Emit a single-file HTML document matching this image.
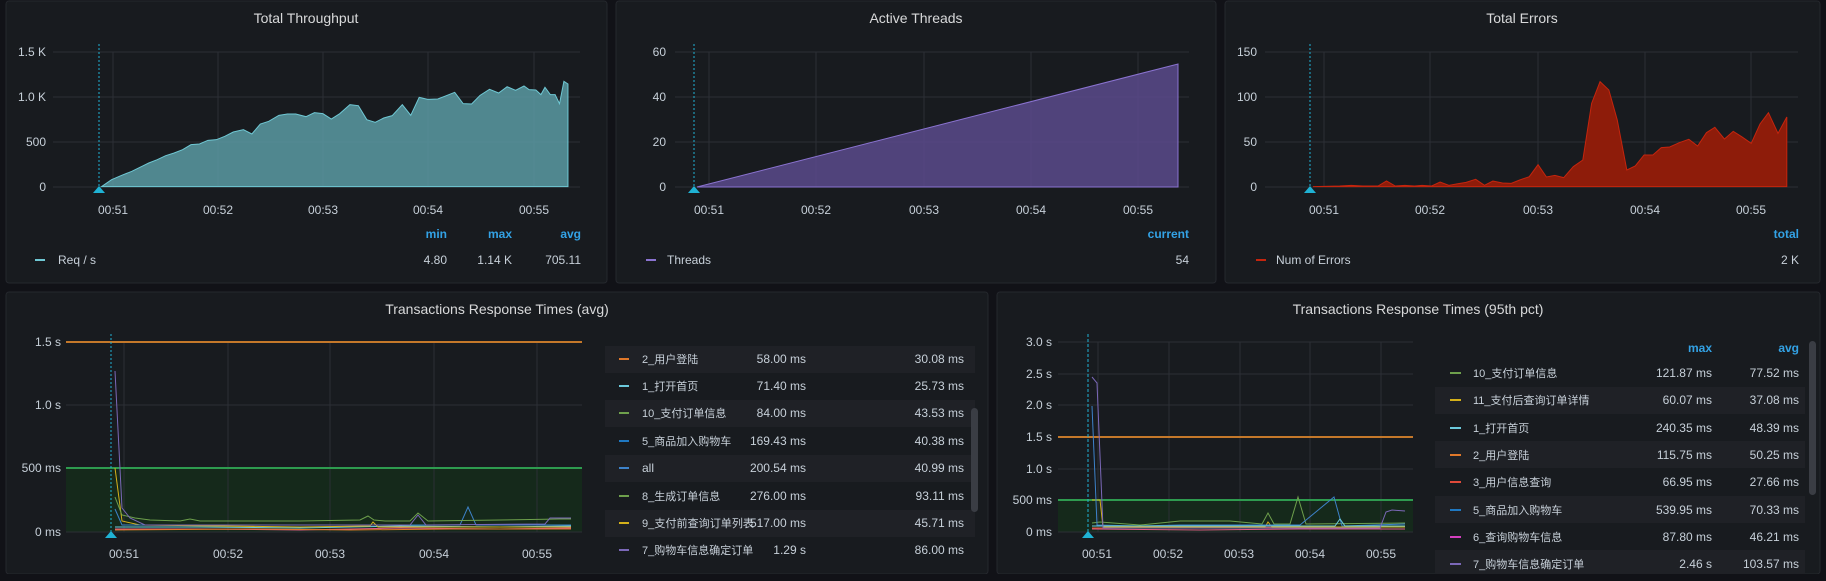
<!DOCTYPE html>
<html><head><meta charset="utf-8"><style>
html,body{margin:0;padding:0;background:#111217;}
svg{display:block;}
text{font-family:"Liberation Sans","Noto Sans CJK SC",sans-serif;}
.t{fill:#d8d9da;font-size:14px;font-weight:500;}
.ax{fill:#c7d0d9;font-size:12px;}
.lg{fill:#c7d0d9;font-size:12px;}
.cj{font-size:11px;}
.hd{fill:#33a2e5;font-size:12px;font-weight:bold;}
.g{stroke:#2c2f35;stroke-width:1;}
</style></head><body>
<svg width="1826" height="581" viewBox="0 0 1826 581" xmlns="http://www.w3.org/2000/svg">
<rect width="1826" height="581" fill="#111217"/>
<rect x="6" y="1" width="601" height="282" rx="3" fill="#181b1f" stroke="#25282d"/>
<rect x="616" y="1" width="600" height="282" rx="3" fill="#181b1f" stroke="#25282d"/>
<rect x="1225" y="1" width="595" height="282" rx="3" fill="#181b1f" stroke="#25282d"/>
<rect x="6" y="292" width="982" height="282" rx="3" fill="#181b1f" stroke="#25282d"/>
<rect x="997" y="292" width="823" height="282" rx="3" fill="#181b1f" stroke="#25282d"/>

<text class="t" x="306" y="23" text-anchor="middle">Total Throughput</text>
<g class="g">
<line x1="53" y1="52" x2="580" y2="52"/><line x1="53" y1="97" x2="580" y2="97"/><line x1="53" y1="142" x2="580" y2="142"/><line x1="53" y1="187" x2="580" y2="187"/>
<line x1="113" y1="52" x2="113" y2="187"/><line x1="218" y1="52" x2="218" y2="187"/><line x1="323" y1="52" x2="323" y2="187"/><line x1="428" y1="52" x2="428" y2="187"/><line x1="534" y1="52" x2="534" y2="187"/>
</g>
<g class="ax" text-anchor="end"><text x="46" y="56">1.5 K</text><text x="46" y="101">1.0 K</text><text x="46" y="146">500</text><text x="46" y="191">0</text></g>
<g class="ax" text-anchor="middle"><text x="113" y="214">00:51</text><text x="218" y="214">00:52</text><text x="323" y="214">00:53</text><text x="428" y="214">00:54</text><text x="534" y="214">00:55</text></g>
<g transform="translate(0,-2) scale(0.33807,0.33333)">
<polygon fill="#5a9aa3" fill-opacity="0.85" stroke="#6fc8d4" stroke-width="1" vector-effect="non-scaling-stroke" points="300,566 330,545 360,532 390,520 420,505 440,495 465,485 490,473 515,465 540,455 565,440 590,438 615,427 640,425 665,415 690,402 720,395 745,408 770,378 795,370 825,352 850,348 875,348 905,356 930,344 955,347 980,363 1005,347 1035,320 1060,323 1085,365 1110,373 1135,360 1160,353 1190,320 1215,352 1240,298 1265,304 1295,303 1320,293 1345,283 1370,317 1395,318 1420,292 1448,274 1475,285 1500,266 1525,277 1550,264 1565,275 1585,276 1600,290 1612,268 1628,290 1642,290 1655,317 1668,250 1680,258 1680,566"/>
</g>
<line x1="99" y1="44" x2="99" y2="187" stroke="#1fb2d4" stroke-dasharray="2,2"/>
<polygon points="93,193 99,186 105,193" fill="#1fb2d4"/>
<g text-anchor="end"><text class="hd" x="447" y="238">min</text><text class="hd" x="512" y="238">max</text><text class="hd" x="581" y="238">avg</text></g>
<line x1="35" y1="260" x2="45" y2="260" stroke="#6fc8d4" stroke-width="2"/>
<text class="lg" x="58" y="264">Req / s</text>
<g class="lg" text-anchor="end"><text x="447" y="264">4.80</text><text x="512" y="264">1.14 K</text><text x="581" y="264">705.11</text></g>

<text class="t" x="916" y="23" text-anchor="middle">Active Threads</text>
<g class="g">
<line x1="675" y1="52" x2="1189" y2="52"/><line x1="675" y1="97" x2="1189" y2="97"/><line x1="675" y1="142" x2="1189" y2="142"/><line x1="675" y1="187" x2="1189" y2="187"/>
<line x1="709" y1="52" x2="709" y2="187"/><line x1="816" y1="52" x2="816" y2="187"/><line x1="924" y1="52" x2="924" y2="187"/><line x1="1031" y1="52" x2="1031" y2="187"/><line x1="1138" y1="52" x2="1138" y2="187"/>
</g>
<g class="ax" text-anchor="end"><text x="666" y="56">60</text><text x="666" y="101">40</text><text x="666" y="146">20</text><text x="666" y="191">0</text></g>
<g class="ax" text-anchor="middle"><text x="709" y="214">00:51</text><text x="816" y="214">00:52</text><text x="924" y="214">00:53</text><text x="1031" y="214">00:54</text><text x="1138" y="214">00:55</text></g>
<polygon points="697,187 1178,64 1178,187" fill="#5b4a8c" fill-opacity="0.85" stroke="#8a73d0" stroke-width="1"/>
<line x1="694" y1="44" x2="694" y2="187" stroke="#1fb2d4" stroke-dasharray="2,2"/>
<polygon points="688,193 694,186 700,193" fill="#1fb2d4"/>
<text class="hd" x="1189" y="238" text-anchor="end">current</text>
<line x1="646" y1="260" x2="656" y2="260" stroke="#8a73d0" stroke-width="2"/>
<text class="lg" x="667" y="264">Threads</text>
<text class="lg" x="1189" y="264" text-anchor="end">54</text>

<text class="t" x="1522" y="23" text-anchor="middle">Total Errors</text>
<g class="g">
<line x1="1265" y1="52" x2="1798" y2="52"/><line x1="1265" y1="97" x2="1798" y2="97"/><line x1="1265" y1="142" x2="1798" y2="142"/><line x1="1265" y1="187" x2="1798" y2="187"/>
<line x1="1324" y1="52" x2="1324" y2="187"/><line x1="1430" y1="52" x2="1430" y2="187"/><line x1="1538" y1="52" x2="1538" y2="187"/><line x1="1645" y1="52" x2="1645" y2="187"/><line x1="1751" y1="52" x2="1751" y2="187"/>
</g>
<g class="ax" text-anchor="end"><text x="1257" y="56">150</text><text x="1257" y="101">100</text><text x="1257" y="146">50</text><text x="1257" y="191">0</text></g>
<g class="ax" text-anchor="middle"><text x="1324" y="214">00:51</text><text x="1430" y="214">00:52</text><text x="1538" y="214">00:53</text><text x="1645" y="214">00:54</text><text x="1751" y="214">00:55</text></g>
<g transform="translate(1225,40) scale(0.3827,0.33333)">
<polygon fill="#8e1c0a" stroke="#c4250e" stroke-width="1" vector-effect="non-scaling-stroke" points="230,440 300,438 330,436 360,438 400,438 422,423 445,438 470,436 495,438 515,436 540,438 562,426 585,436 610,431 630,427 655,418 678,436 700,423 725,429 748,430 770,420 795,410 818,374 840,411 862,406 885,413 910,380 935,360 958,190 980,125 1003,150 1025,240 1050,390 1072,378 1095,345 1118,345 1140,323 1162,321 1187,308 1212,298 1235,318 1258,278 1280,262 1305,297 1328,274 1350,290 1375,310 1398,252 1420,218 1445,280 1468,231 1468,440"/>
</g>
<line x1="1310" y1="44" x2="1310" y2="187" stroke="#1fb2d4" stroke-dasharray="2,2"/>
<polygon points="1304,193 1310,186 1316,193" fill="#1fb2d4"/>
<text class="hd" x="1799" y="238" text-anchor="end">total</text>
<line x1="1256" y1="260" x2="1266" y2="260" stroke="#c4250e" stroke-width="2"/>
<text class="lg" x="1276" y="264">Num of Errors</text>
<text class="lg" x="1799" y="264" text-anchor="end">2 K</text>

<text class="t" x="497" y="314" text-anchor="middle">Transactions Response Times (avg)</text>
<rect x="66" y="468" width="516" height="64" fill="#15291b"/>
<g class="g">
<line x1="66" y1="405" x2="582" y2="405"/><line x1="66" y1="532" x2="582" y2="532"/>
<line x1="124" y1="342" x2="124" y2="532"/><line x1="228" y1="342" x2="228" y2="532"/><line x1="330" y1="342" x2="330" y2="532"/><line x1="434" y1="342" x2="434" y2="532"/><line x1="537" y1="342" x2="537" y2="532"/>
</g>
<line x1="66" y1="342" x2="582" y2="342" stroke="#c4782a" stroke-width="2"/>
<line x1="66" y1="468" x2="582" y2="468" stroke="#2e9b4f" stroke-width="2"/>
<g class="ax" text-anchor="end"><text x="61" y="346">1.5 s</text><text x="61" y="409">1.0 s</text><text x="61" y="472">500 ms</text><text x="61" y="536">0 ms</text></g>
<g class="ax" text-anchor="middle"><text x="124" y="558">00:51</text><text x="228" y="558">00:52</text><text x="330" y="558">00:53</text><text x="434" y="558">00:54</text><text x="537" y="558">00:55</text></g>
<g fill="none" stroke-width="1">
<polyline stroke="#e05a8a" points="115,529 200,529 300,530 400,528 500,529 571,528"/>
<polyline stroke="#e0782a" points="115,530 250,529 350,530 450,529 571,529"/>
<polyline stroke="#6ccadc" points="115,527 200,527 300,528 400,526 500,527 571,526"/>
<polyline stroke="#d4b01a" points="115,468 122,521 140,525 300,527 370,526 373,522 378,527 571,527"/>
<polyline stroke="#3d82c9" points="115,509 122,525 300,525 460,525 468,507 476,525 571,525"/>
<polyline stroke="#6ea04c" points="115,497 122,515 135,518 150,520 180,521 190,519 200,521 300,521 360,520 368,516 374,520 385,521 410,521 418,513 428,521 500,520 560,519 571,519"/>
<polyline stroke="#7b68b8" points="115,371 122,508 130,518 145,525 400,525 410,525 418,515 426,525 545,524 550,518 571,518"/>
</g>
<line x1="111" y1="334" x2="111" y2="532" stroke="#1fb2d4" stroke-dasharray="2,2"/>
<polygon points="105,538 111,531 117,538" fill="#1fb2d4"/>
<g>
<rect x="605" y="346" width="370" height="27" fill="#1f2126"/>
<rect x="605" y="400" width="370" height="27" fill="#1f2126"/>
<rect x="605" y="455" width="370" height="27" fill="#1f2126"/>
<rect x="605" y="510" width="370" height="27" fill="#1f2126"/>
</g>
<g class="lg">
<line x1="619" y1="359" x2="629" y2="359" stroke="#e0782a" stroke-width="2"/><text class="cj" x="642" y="363">2_用户登陆</text>
<line x1="619" y1="386" x2="629" y2="386" stroke="#6ccadc" stroke-width="2"/><text class="cj" x="642" y="390">1_打开首页</text>
<line x1="619" y1="413" x2="629" y2="413" stroke="#6ea04c" stroke-width="2"/><text class="cj" x="642" y="417">10_支付订单信息</text>
<line x1="619" y1="441" x2="629" y2="441" stroke="#1f78c1" stroke-width="2"/><text class="cj" x="642" y="445">5_商品加入购物车</text>
<line x1="619" y1="468" x2="629" y2="468" stroke="#3d82c9" stroke-width="2"/><text x="642" y="472">all</text>
<line x1="619" y1="496" x2="629" y2="496" stroke="#6ea04c" stroke-width="2"/><text class="cj" x="642" y="500">8_生成订单信息</text>
<line x1="619" y1="523" x2="629" y2="523" stroke="#d4b01a" stroke-width="2"/><text class="cj" x="642" y="527" textLength="112" lengthAdjust="spacingAndGlyphs">9_支付前查询订单列表</text>
<line x1="619" y1="550" x2="629" y2="550" stroke="#7b68b8" stroke-width="2"/><text class="cj" x="642" y="554">7_购物车信息确定订单</text>
</g>
<g class="lg" text-anchor="end">
<text x="806" y="363">58.00 ms</text><text x="964" y="363">30.08 ms</text>
<text x="806" y="390">71.40 ms</text><text x="964" y="390">25.73 ms</text>
<text x="806" y="417">84.00 ms</text><text x="964" y="417">43.53 ms</text>
<text x="806" y="445">169.43 ms</text><text x="964" y="445">40.38 ms</text>
<text x="806" y="472">200.54 ms</text><text x="964" y="472">40.99 ms</text>
<text x="806" y="500">276.00 ms</text><text x="964" y="500">93.11 ms</text>
<text x="806" y="527">517.00 ms</text><text x="964" y="527">45.71 ms</text>
<text x="806" y="554">1.29 s</text><text x="964" y="554">86.00 ms</text>
</g>
<rect x="971" y="408" width="7" height="104" rx="3.5" fill="#3a3d44"/>

<text class="t" x="1418" y="314" text-anchor="middle">Transactions Response Times (95th pct)</text>
<rect x="1058" y="500" width="355" height="32" fill="#15291b"/>
<g class="g">
<line x1="1058" y1="342" x2="1413" y2="342"/><line x1="1058" y1="374" x2="1413" y2="374"/><line x1="1058" y1="405" x2="1413" y2="405"/><line x1="1058" y1="469" x2="1413" y2="469"/><line x1="1058" y1="532" x2="1413" y2="532"/>
<line x1="1098" y1="342" x2="1098" y2="532"/><line x1="1169" y1="342" x2="1169" y2="532"/><line x1="1240" y1="342" x2="1240" y2="532"/><line x1="1310" y1="342" x2="1310" y2="532"/><line x1="1381" y1="342" x2="1381" y2="532"/>
</g>
<line x1="1058" y1="437" x2="1413" y2="437" stroke="#c4782a" stroke-width="2"/>
<line x1="1058" y1="500" x2="1413" y2="500" stroke="#2e9b4f" stroke-width="2"/>
<g class="ax" text-anchor="end"><text x="1052" y="346">3.0 s</text><text x="1052" y="378">2.5 s</text><text x="1052" y="409">2.0 s</text><text x="1052" y="441">1.5 s</text><text x="1052" y="473">1.0 s</text><text x="1052" y="504">500 ms</text><text x="1052" y="536">0 ms</text></g>
<g class="ax" text-anchor="middle"><text x="1097" y="558">00:51</text><text x="1168" y="558">00:52</text><text x="1239" y="558">00:53</text><text x="1310" y="558">00:54</text><text x="1381" y="558">00:55</text></g>
<g fill="none" stroke-width="1">
<polyline stroke="#e05a8a" points="1092,529 1200,530 1300,529 1405,529"/>
<polyline stroke="#e0582a" points="1092,528 1200,528 1300,527 1405,527"/>
<polyline stroke="#d4b01a" points="1092,500 1100,500 1103,527 1265,527 1268,522 1272,527 1405,527"/>
<polyline stroke="#6ea04c" points="1092,523 1100,522 1140,525 1180,521 1230,521 1262,524 1268,513 1274,524 1290,524 1298,497 1306,524 1405,523"/>
<polyline stroke="#3d82c9" points="1092,406 1097,525 1140,526 1180,525 1267,525 1300,525 1334,497 1342,526 1405,524"/>
<polyline stroke="#6ccadc" points="1092,526 1200,526 1335,526 1340,519 1345,526 1405,526"/>
<polyline stroke="#7b68b8" points="1092,377 1097,383 1103,528 1380,528 1386,512 1392,510 1405,511"/>
</g>
<line x1="1088" y1="334" x2="1088" y2="532" stroke="#1fb2d4" stroke-dasharray="3,2"/>
<polygon points="1082,538 1088,531 1094,538" fill="#1fb2d4"/>
<g text-anchor="end"><text class="hd" x="1712" y="352">max</text><text class="hd" x="1799" y="352">avg</text></g>
<g>
<rect x="1435" y="387" width="370" height="27" fill="#1f2126"/>
<rect x="1435" y="441" width="370" height="27" fill="#1f2126"/>
<rect x="1435" y="496" width="370" height="27" fill="#1f2126"/>
<rect x="1435" y="550" width="370" height="24" fill="#1f2126"/>
</g>
<g class="lg">
<line x1="1450" y1="373" x2="1461" y2="373" stroke="#6ea04c" stroke-width="2"/><text class="cj" x="1473" y="377">10_支付订单信息</text>
<line x1="1450" y1="400" x2="1461" y2="400" stroke="#d4b01a" stroke-width="2"/><text class="cj" x="1473" y="404">11_支付后查询订单详情</text>
<line x1="1450" y1="428" x2="1461" y2="428" stroke="#6ccadc" stroke-width="2"/><text class="cj" x="1473" y="432">1_打开首页</text>
<line x1="1450" y1="455" x2="1461" y2="455" stroke="#e0782a" stroke-width="2"/><text class="cj" x="1473" y="459">2_用户登陆</text>
<line x1="1450" y1="482" x2="1461" y2="482" stroke="#e04a3a" stroke-width="2"/><text class="cj" x="1473" y="486">3_用户信息查询</text>
<line x1="1450" y1="510" x2="1461" y2="510" stroke="#1f78c1" stroke-width="2"/><text class="cj" x="1473" y="514">5_商品加入购物车</text>
<line x1="1450" y1="537" x2="1461" y2="537" stroke="#d43fbf" stroke-width="2"/><text class="cj" x="1473" y="541">6_查询购物车信息</text>
<line x1="1450" y1="564" x2="1461" y2="564" stroke="#7b68b8" stroke-width="2"/><text class="cj" x="1473" y="568">7_购物车信息确定订单</text>
</g>
<g class="lg" text-anchor="end">
<text x="1712" y="377">121.87 ms</text><text x="1799" y="377">77.52 ms</text>
<text x="1712" y="404">60.07 ms</text><text x="1799" y="404">37.08 ms</text>
<text x="1712" y="432">240.35 ms</text><text x="1799" y="432">48.39 ms</text>
<text x="1712" y="459">115.75 ms</text><text x="1799" y="459">50.25 ms</text>
<text x="1712" y="486">66.95 ms</text><text x="1799" y="486">27.66 ms</text>
<text x="1712" y="514">539.95 ms</text><text x="1799" y="514">70.33 ms</text>
<text x="1712" y="541">87.80 ms</text><text x="1799" y="541">46.21 ms</text>
<text x="1712" y="568">2.46 s</text><text x="1799" y="568">103.57 ms</text>
</g>
<rect x="1809" y="341" width="7" height="154" rx="3.5" fill="#3a3d44"/>
<rect x="997" y="574" width="823" height="7" fill="#111217"/>
<rect x="6" y="574" width="982" height="7" fill="#111217"/>
</svg>
</body></html>
